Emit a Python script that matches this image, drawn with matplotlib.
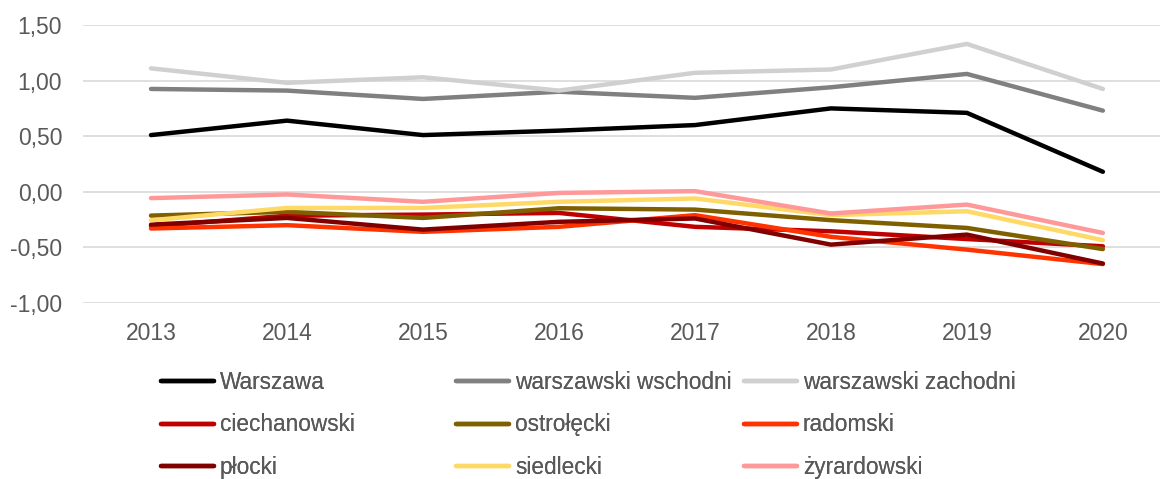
import matplotlib.pyplot as plt
from matplotlib.ticker import FuncFormatter

plt.rcParams["font.family"] = ["Liberation Sans", "DejaVu Sans"]

years = ["2013", "2014", "2015", "2016", "2017", "2018", "2019", "2020"]

warszawa = [0.51, 0.64, 0.51, 0.55, 0.60, 0.75, 0.71, 0.18]
warszawski_wschodni = [0.925, 0.91, 0.835, 0.90, 0.845, 0.94, 1.06, 0.73]
warszawski_zachodni = [1.11, 0.98, 1.03, 0.91, 1.07, 1.10, 1.33, 0.925]
ciechanowski = [-0.31, -0.215, -0.205, -0.19, -0.315, -0.355, -0.425, -0.49]
ostrolecki = [-0.214, -0.18, -0.235, -0.148, -0.16, -0.255, -0.325, -0.515]
radomski = [-0.33, -0.30, -0.36, -0.315, -0.21, -0.405, -0.52, -0.65]
plocki = [-0.295, -0.235, -0.34, -0.27, -0.24, -0.475, -0.385, -0.645]
siedlecki = [-0.256, -0.145, -0.145, -0.09, -0.06, -0.21, -0.175, -0.435]
zyrardowski = [-0.057, -0.024, -0.09, -0.01, 0.006, -0.195, -0.115, -0.37]

series = [
    ("Warszawa", warszawa, "#000000"),
    ("warszawski wschodni", warszawski_wschodni, "#808080"),
    ("warszawski zachodni", warszawski_zachodni, "#D0D0D0"),
    ("ciechanowski", ciechanowski, "#C00000"),
    ("ostrołęcki", ostrolecki, "#7F6000"),
    ("radomski", radomski, "#FF3300"),
    ("płocki", plocki, "#800000"),
    ("siedlecki", siedlecki, "#FFD966"),
    ("żyrardowski", zyrardowski, "#FF9999"),
]

fig = plt.figure(figsize=(11.6, 4.79), dpi=100)
ax = fig.add_axes([83 / 1160, 1 - 303 / 479, 1 - 83 / 1160, (303 - 25) / 479])

x = list(range(len(years)))
handles = []
for name, vals, color in series:
    (ln,) = ax.plot(x, vals, color=color, linewidth=3.2, solid_capstyle="round",
                    solid_joinstyle="round", label=name)
    handles.append(ln)

ax.set_xlim(-0.5, 7.42)
ax.set_ylim(-1.0, 1.5)
ax.set_yticks([-1.0, -0.5, 0.0, 0.5, 1.0, 1.5])
ax.yaxis.set_major_formatter(FuncFormatter(lambda v, p: f"{v:.2f}".replace(".", ",")))
ax.set_xticks(x)
ax.set_xticklabels(years)
ax.grid(axis="y", color="#D9D9D9", linewidth=1.2)
ax.set_axisbelow(True)
for s in ax.spines.values():
    s.set_visible(False)
ax.tick_params(axis="both", length=0, labelsize=16.5, labelcolor="#595959")
ax.tick_params(axis="y", pad=15)
ax.tick_params(axis="x", pad=14)

# Excel-style legend: three equal-width columns, filled row by row
col_x = [161 / 1160, 456 / 1160, 744 / 1160]
for c in range(3):
    hs = handles[c::3]
    leg = fig.legend(hs, [h.get_label() for h in hs], loc="upper left",
                     bbox_to_anchor=(col_x[c], 1 - 371 / 479), frameon=False,
                     fontsize=16.3, handlelength=2.35, handletextpad=0.25,
                     labelspacing=0.86, borderaxespad=0, borderpad=0)
    for t in leg.get_texts():
        t.set_color("#595959")
    fig.add_artist(leg)

fig.savefig("out.png", dpi=100)
